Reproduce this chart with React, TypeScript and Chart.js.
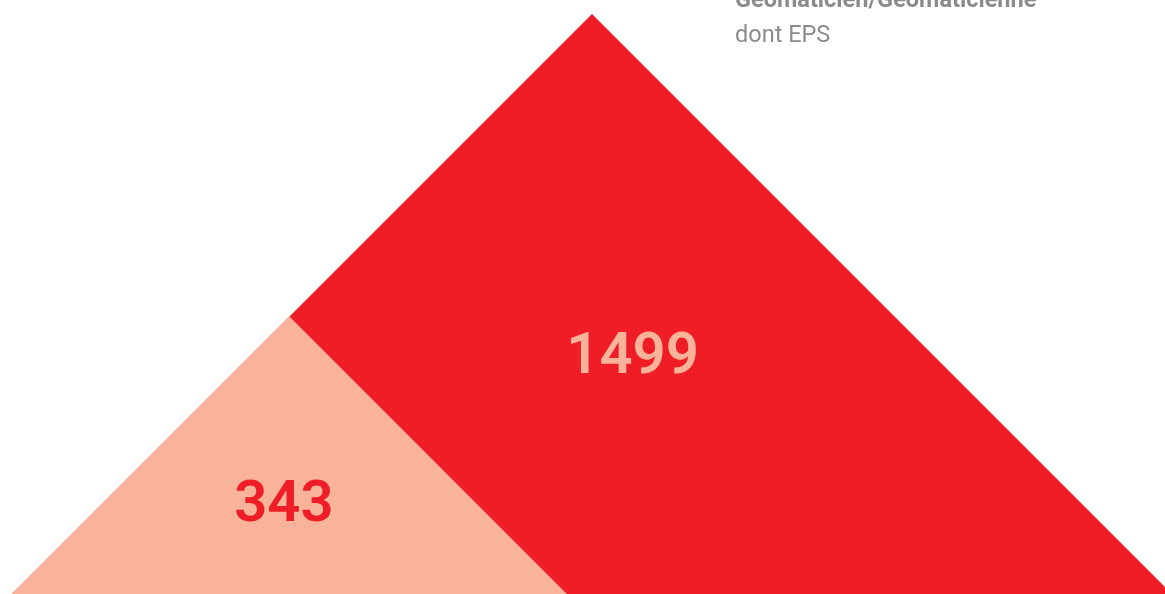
import React, { useEffect, useRef } from 'react';
import { Chart, registerables } from 'chart.js';

Chart.register(...registerables);

// data
const categories = ['Géomaticien/Géomaticienne', 'dont EPS'];
const values = [1499, 343];
const colors = ['#EE1D26', '#F8B39A'];
const labelColors = ['#F8B39A', '#EE1D26'];

// where each number sits inside its triangle (fraction of triangle height)
const labelAnchors = [
    { fx: 1.07, fy: 0.41 },
    { fx: 0.98, fy: 0.322 },
];

const valueLabels = {
    id: 'valueLabels',
    afterDatasetsDraw(chart) {
        const { ctx, scales } = chart;
        ctx.save();
        ctx.font = '600 58px Roboto';
        ctx.textAlign = 'center';
        ctx.textBaseline = 'middle';
        values.forEach((v, i) => {
            const h = Math.sqrt(v);
            const x = scales.x.getPixelForValue(h * labelAnchors[i].fx);
            const y = scales.y.getPixelForValue(h * labelAnchors[i].fy);
            ctx.fillStyle = labelColors[i];
            ctx.fillText(String(v), x, y + 2);
        });
        ctx.restore();
    },
    afterDraw(chart) {
        const { ctx } = chart;
        ctx.save();
        ctx.fillStyle = '#8B8B8B';
        ctx.textAlign = 'left';
        ctx.textBaseline = 'alphabetic';
        ctx.font = 'bold 23.5px Roboto';
        ctx.fillText(categories[0], 735, 7);
        ctx.font = '23.5px Roboto';
        ctx.fillText(categories[1], 735, 42);
        ctx.restore();
    }
};

const TriangleChart = () => {
    const chartRef = useRef(null);

    useEffect(() => {
        document.body.style.margin = '0';
        const canvas = chartRef.current.getContext('2d');

        // triangles share their left corner, height grows with sqrt(value)
        const top = Math.sqrt(Math.max(...values));
        const pxPerUnit = 580 / top;

        const datasets = values.map((v, i) => {
            const h = Math.sqrt(v);
            return {
                label: categories[i],
                data: [
                    { x: 0, y: 0 },
                    { x: h, y: h },
                    { x: 2 * h, y: 0 },
                ],
                backgroundColor: colors[i],
                borderColor: colors[i],
                borderWidth: 0,
                pointRadius: 0,
                fill: 'origin',
                tension: 0,
                order: values.length - i,
            };
        });

        const chartInstance = new Chart(canvas, {
            type: 'line',
            data: { datasets },
            options: {
                animation: false,
                responsive: true,
                maintainAspectRatio: false,
                layout: { padding: 0 },
                plugins: {
                    legend: { display: false },
                    tooltip: { enabled: false },
                },
                scales: {
                    x: {
                        type: 'linear',
                        display: false,
                        min: -12 / pxPerUnit,
                        max: (1165 - 12) / pxPerUnit,
                    },
                    y: {
                        display: false,
                        min: 0,
                        max: 594 / pxPerUnit,
                    },
                },
            },
            plugins: [valueLabels],
        });

        return () => {
            chartInstance.destroy();
        };
    }, []);

    return (
        <div style={{ position: 'relative', width: 1165, height: 594 }}>
            <canvas ref={chartRef} />
        </div>
    );
};

export default function App() {
    return <TriangleChart />;
}
